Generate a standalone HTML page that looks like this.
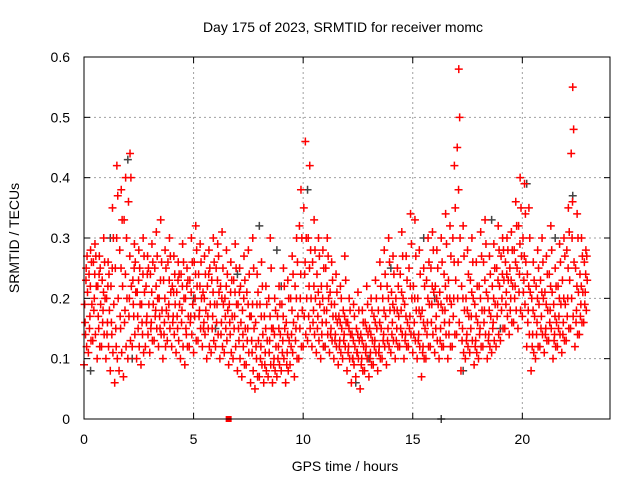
<!DOCTYPE html>
<html><head><meta charset="utf-8"><style>
body{margin:0;background:#fff}
svg{display:block;font-family:"Liberation Sans",sans-serif}
</style></head><body>
<svg id="chart" width="640" height="480">
<rect width="640" height="480" fill="#fff"/>
<text x="343" y="32" font-size="14" text-anchor="middle">Day 175 of 2023, SRMTID for receiver momc</text>
<text x="0" y="0" font-size="14" text-anchor="middle" transform="translate(19,238) rotate(-90)">SRMTID / TECUs</text>
<text x="345" y="471" font-size="14" text-anchor="middle">GPS time / hours</text>
<g id="grid"></g>
<g id="ticks"></g>
<g id="gray"></g>
<g id="red"></g>
<rect x="84" y="57" width="526" height="362" fill="none" stroke="#000" stroke-width="1"/>
</svg>
<script>
const xTicks=[0,5,10,15,20];
const yTicks=[0,0.1,0.2,0.3,0.4,0.5,0.6];
const yTickLabels=["0","0.1","0.2","0.3","0.4","0.5","0.6"];
const redHours=[0,0.2,0.4,0.6,0.8,1,1.2,1.4,1.6,1.8,2,2.2,2.4,2.6,2.8,3,3.2,3.4,3.6,3.8,4,4.2,4.4,4.6,4.8,5,5.2,5.4,5.6,5.8,6,6.2,6.4,6.6,6.8,7,7.2,7.4,7.6,7.8,8,8.2,8.4,8.6,8.8,9,9.2,9.4,9.6,9.8,10,10.2,10.4,10.6,10.8,11,11.2,11.4,11.6,11.8,12,12.2,12.4,12.6,12.8,13,13.2,13.4,13.6,13.8,14,14.2,14.4,14.6,14.8,15,15.2,15.4,15.6,15.8,16,16.2,16.4,16.6,16.8,17,17.2,17.4,17.6,17.8,18,18.2,18.4,18.6,18.8,19,19.2,19.4,19.6,19.8,20,20.2,20.4,20.6,20.8,21,21.2,21.4,21.6,21.8,22,22.2,22.4,22.6,22.8];
const redValues=[
[.09,.14,.19,.25],[.11,.17,.24,.28],[.13,.2,.26,.29],[.1,.15,.22,.27],[.12,.18,.23,.3],
[.1,.16,.2,.26],[.08,.14,.22,.35],[.06,.12,.25,.42],[.08,.15,.28,.38],[.07,.18,.33,.4],
[.1,.2,.36,.44],[.12,.17,.23,.29],[.1,.15,.21,.28],[.09,.14,.19,.3],[.12,.17,.22,.27],
[.11,.16,.24,.29],[.13,.18,.25,.31],[.12,.15,.2,.33],[.1,.16,.23,.28],[.13,.19,.26,.3],
[.12,.17,.22,.27],[.11,.15,.21,.26],[.1,.18,.24,.29],[.09,.14,.2,.25],[.12,.17,.23,.3],
[.11,.2,.26,.32],[.13,.18,.24,.29],[.12,.16,.21,.27],[.1,.15,.22,.28],[.11,.17,.23,.3],
[.12,.19,.25,.29],[.1,.16,.22,.31],[.11,.15,.2,.28],[.09,.14,.19,.26],[.1,.17,.23,.29],
[.08,.13,.19,.25],[.07,.12,.18,.27],[.09,.15,.21,.28],[.06,.11,.17,.3],[.05,.1,.16,.24],
[.07,.12,.19,.26],[.06,.11,.17,.22],[.07,.13,.2,.3],[.06,.1,.15,.2],[.07,.12,.17,.22],
[.08,.13,.19,.25],[.06,.11,.16,.23],[.09,.14,.2,.27],[.07,.15,.22,.3],[.1,.2,.32,.38],
[.12,.24,.35,.46],[.13,.22,.3,.42],[.12,.18,.26,.33],[.11,.17,.24,.3],[.1,.16,.22,.28],
[.12,.18,.25,.3],[.11,.15,.21,.26],[.1,.14,.19,.24],[.09,.13,.17,.22],[.1,.14,.18,.27],
[.08,.12,.16,.2],[.06,.1,.14,.19],[.07,.11,.15,.21],[.05,.1,.14,.18],[.08,.12,.16,.22],
[.07,.11,.15,.2],[.09,.13,.17,.23],[.08,.12,.18,.26],[.1,.14,.2,.28],[.09,.15,.22,.3],
[.11,.16,.21,.27],[.1,.15,.2,.25],[.12,.18,.24,.31],[.1,.14,.19,.27],[.12,.17,.25,.34],
[.11,.16,.22,.33],[.1,.14,.2,.28],[.07,.12,.18,.25],[.1,.16,.23,.3],[.12,.19,.25,.31],
[.11,.17,.22,.28],[.1,.15,.21,.3],[.12,.18,.24,.34],[.1,.16,.23,.32],[.12,.2,.3,.42],
[.14,.26,.45,.58],[.08,.15,.22,.32],[.1,.14,.2,.28],[.11,.17,.23,.3],[.09,.13,.19,.26],
[.1,.15,.22,.31],[.12,.18,.26,.33],[.1,.14,.2,.27],[.11,.16,.22,.29],[.12,.19,.25,.32],
[.13,.2,.27,.3],[.15,.21,.26,.3],[.14,.2,.25,.31],[.16,.22,.28,.36],[.15,.24,.32,.4],
[.17,.23,.3,.39],[.12,.18,.24,.35],[.08,.14,.2,.26],[.1,.16,.22,.28],[.12,.17,.23,.3],
[.11,.15,.21,.27],[.13,.18,.24,.32],[.1,.14,.19,.25],[.12,.17,.22,.29],[.11,.16,.23,.3],
[.13,.2,.28,.35],[.15,.3,.44,.55],[.12,.18,.25,.34],[.14,.19,.24,.3],[.16,.21,.26,.28]];
const redValuesB=[
[.12,.16,.21,.23,.27],[.13,.15,.19,.22,.26],[.14,.18,.22,.24,.27],[.12,.17,.19,.24,.25],[.14,.16,.2,.21,.26],
[.12,.14,.18,.22,.24],[.11,.16,.19,.25,.3],[.1,.15,.2,.3,.37],[.11,.17,.22,.25,.33],[.12,.16,.2,.24,.3],
[.13,.17,.22,.27,.4],[.14,.19,.21,.25,.26],[.12,.17,.19,.23,.25],[.11,.16,.21,.24,.27],[.14,.16,.19,.24,.25],
[.13,.15,.19,.21,.26],[.15,.17,.2,.22,.27],[.14,.17,.18,.23,.26],[.12,.14,.18,.2,.25],[.15,.17,.21,.23,.27],
[.14,.16,.19,.21,.24],[.13,.17,.19,.23,.24],[.12,.16,.2,.22,.26],[.12,.15,.17,.22,.23],[.14,.16,.19,.21,.26],
[.13,.17,.22,.24,.28],[.15,.17,.2,.22,.26],[.14,.15,.18,.2,.24],[.12,.17,.19,.24,.25],[.13,.15,.19,.21,.26],
[.14,.16,.21,.23,.27],[.12,.14,.19,.2,.25],[.13,.17,.18,.22,.24],[.11,.16,.17,.21,.23],[.12,.15,.19,.21,.25],
[.1,.15,.16,.21,.22],[.09,.14,.15,.2,.23],[.11,.13,.17,.19,.24],[.08,.13,.15,.19,.25],[.07,.12,.13,.19,.21],
[.09,.1,.14,.17,.22],[.08,.09,.13,.15,.19],[.09,.11,.15,.17,.25],[.08,.09,.12,.14,.18],[.09,.1,.14,.15,.19],
[.1,.11,.15,.17,.22],[.08,.09,.13,.14,.2],[.11,.12,.16,.18,.24],[.1,.13,.17,.2,.26],[.12,.15,.18,.24,.3],
[.14,.17,.2,.26,.3],[.15,.17,.2,.25,.28],[.14,.16,.2,.22,.28],[.13,.15,.19,.21,.27],[.12,.14,.18,.2,.25],
[.14,.16,.2,.22,.27],[.13,.14,.17,.19,.23],[.12,.13,.16,.17,.21],[.11,.12,.15,.16,.2],[.12,.13,.16,.17,.23],
[.1,.11,.14,.15,.18],[.09,.1,.12,.13,.17],[.1,.11,.13,.14,.18],[.08,.09,.12,.13,.16],[.1,.11,.14,.15,.19],
[.09,.1,.13,.14,.18],[.11,.12,.15,.16,.2],[.1,.11,.15,.16,.22],[.12,.13,.17,.18,.24],[.12,.13,.18,.2,.26],
[.13,.14,.18,.19,.24],[.12,.13,.17,.18,.22],[.14,.15,.2,.21,.27],[.12,.13,.16,.17,.23],[.14,.15,.2,.22,.29],
[.13,.14,.18,.2,.27],[.12,.13,.17,.18,.24],[.1,.11,.15,.16,.22],[.12,.14,.19,.2,.26],[.14,.16,.21,.22,.28],
[.13,.15,.19,.2,.25],[.12,.13,.18,.19,.26],[.14,.16,.2,.22,.29],[.12,.14,.19,.2,.27],[.14,.17,.23,.26,.35],
[.16,.2,.3,.38,.5],[.11,.13,.18,.2,.27],[.12,.13,.17,.18,.24],[.13,.15,.2,.21,.26],[.11,.12,.16,.17,.22],
[.12,.14,.18,.2,.27],[.14,.16,.21,.23,.29],[.12,.13,.17,.18,.24],[.13,.15,.19,.2,.25],[.14,.17,.22,.23,.28],
[.15,.18,.23,.24,.28],[.17,.19,.23,.24,.28],[.16,.18,.22,.23,.28],[.18,.2,.25,.26,.32],[.18,.21,.27,.29,.35],
[.19,.21,.26,.27,.34],[.14,.16,.21,.22,.3],[.11,.12,.17,.18,.23],[.12,.14,.19,.2,.25],[.14,.15,.2,.21,.26],
[.13,.14,.18,.19,.24],[.15,.16,.21,.22,.28],[.12,.13,.16,.17,.22],[.14,.15,.19,.2,.26],[.13,.14,.19,.2,.27],
[.15,.17,.23,.25,.31],[.17,.2,.26,.36,.48],[.14,.16,.21,.22,.3],[.16,.17,.21,.22,.27],[.18,.19,.23,.24,.27]];
const grayHours=[0.3,1.2,2,2.2,5,6,7,8,8.8,9,10.2,11,12.4,13,14,15.5,16,16.3,17.3,18.6,19,20.2,21.5,22.3];
const grayValues=[0.08,0.3,0.43,0.1,0.2,0.15,0.24,0.32,0.28,0.22,0.38,0.12,0.06,0.1,0.25,0.3,0.2,0,0.08,0.33,0.15,0.39,0.3,0.37];
const zeroMarkHour=6.6;

const NS="http://www.w3.org/2000/svg";
const X0=84,X1=610,Y0=419,Y1=57;
function xs(h){return X0+h/24*(X1-X0);}
function ys(v){return Y0-v/0.6*(Y0-Y1);}
function mk(tag,attrs,parent){const e=document.createElementNS(NS,tag);for(const k in attrs)e.setAttribute(k,attrs[k]);parent.appendChild(e);return e;}
const grid=document.getElementById('grid'),ticks=document.getElementById('ticks');
xTicks.forEach(t=>{
  const x=xs(t);
  if(t>0){const g=mk('line',{x1:x,x2:x,y1:Y1,y2:Y0,stroke:'#a0a0a0','stroke-dasharray':'2,3'},grid);
  
  }
  mk('line',{x1:x,x2:x,y1:Y0,y2:Y0-6,stroke:'#000'},ticks);
  mk('line',{x1:x,x2:x,y1:Y1,y2:Y1+6,stroke:'#000'},ticks);
  const l=mk('text',{x:x,y:444,'font-size':14,'text-anchor':'middle'},ticks);l.textContent=t;
  
  
});
yTicks.forEach((t,i)=>{
  const y=ys(t);
  if(t>0&&t<0.6){const g=mk('line',{x1:X0,x2:X1,y1:y,y2:y,stroke:'#a0a0a0','stroke-dasharray':'2,3'},grid);
  
  }
  mk('line',{x1:X0,x2:X0+6,y1:y,y2:y,stroke:'#000'},ticks);
  mk('line',{x1:X1,x2:X1-6,y1:y,y2:y,stroke:'#000'},ticks);
  const l=mk('text',{x:70,y:y+5,'font-size':14,'text-anchor':'end'},ticks);l.textContent=yTickLabels[i];
  
  
});
function cross(parent,h,v,color){
  const x=xs(h),y=ys(v);
  const p=mk('path',{d:`M${x-4},${y}H${x+4}M${x},${y-4}V${y+4}`,stroke:color,'stroke-width':1.5,fill:'none'},parent);
  
  
}
const gray=document.getElementById('gray'),red=document.getElementById('red');
grayHours.forEach((h,i)=>cross(gray,h,grayValues[i],'#444'));
const jitterA=[0,0.07,0.03,0.1];
const jitterB=[0.12,0.05,0.16,0.09,0.14];
redHours.forEach((h,i)=>{redValues[i].forEach((v,j)=>cross(red,h+jitterA[j],v,'#ff0000'));});
redHours.forEach((h,i)=>{redValuesB[i].forEach((v,j)=>cross(red,h+jitterB[j],v,'#ff0000'));});
const zm=mk('rect',{x:xs(zeroMarkHour)-3,y:ys(0)-3,width:6,height:6,fill:'#ff0000'},red);


</script>
</body></html>
